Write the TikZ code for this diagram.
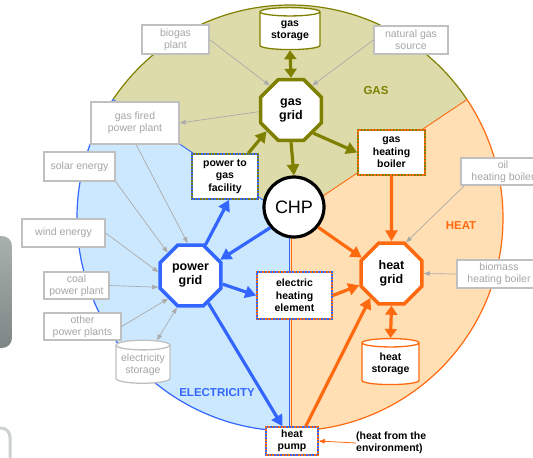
\documentclass[tikz,border=0pt]{standalone}
\usepackage{fontspec}
\setmainfont{Liberation Sans}
\usetikzlibrary{shapes.geometric,arrows.meta,calc}
\definecolor{gasfill}{HTML}{DDDBAA}
\definecolor{gasline}{HTML}{808000}
\definecolor{elecfill}{HTML}{CCE8FF}
\definecolor{elecline}{HTML}{3366FF}
\definecolor{heatfill}{HTML}{FFDFB3}
\definecolor{heatline}{HTML}{FF6A10}
\definecolor{graytext}{HTML}{A6A6A6}
\definecolor{grayline}{HTML}{C0C0C0}
\definecolor{grayarr}{HTML}{ABABAB}
\definecolor{slidetop}{HTML}{A9B1AF}
\definecolor{slidebot}{HTML}{7D8684}
\definecolor{slideline}{HTML}{CDD1D0}
\newcommand\myboxfont{\fontsize{10.5}{12}\selectfont}
\newcommand\myboldfont{\fontsize{10.5}{12.5}\selectfont\bfseries}
\newcommand\myoctfont{\fontsize{12.5}{14}\selectfont\bfseries}
\begin{document}
\begin{tikzpicture}[x=1pt,y=1pt,
  box/.style={rectangle, fill=white, align=center, inner sep=0pt},
  graybox/.style={box, draw=grayline, line width=1.3pt, text=graytext, font=\myboxfont},
  mixbox/.style 2 args={box, draw=#1, line width=1.6pt, font=\myboldfont,
     postaction={draw=#2, line width=1.6pt, dash pattern=on 1.6pt off 1.6pt}},
  octo/.style={regular polygon, regular polygon sides=8, minimum size=66pt, inner sep=0pt,
     fill=white, line width=3.5pt, font=\myoctfont, align=center},
  cyl/.style={cylinder, shape border rotate=90, aspect=0.22, fill=white, line width=1.3pt,
     align=center, inner sep=0pt},
  bigarrow/.style={line width=3.2pt, -{Triangle[length=11pt,width=12pt]}},
  bigdouble/.style={line width=3.2pt, {Triangle[length=9pt,width=12pt]}-{Triangle[length=9pt,width=12pt]}},
  grayarrow/.style={line width=0.7pt, draw=grayarr, -{Triangle[length=6pt,width=4.5pt]}},
  graydouble/.style={line width=0.7pt, draw=grayarr, {Triangle[length=6pt,width=4.5pt]}-{Triangle[length=6pt,width=4.5pt]}},
  sectorlabel/.style={font=\fontsize{11.5}{12}\selectfont\bfseries}
]
\useasboundingbox (0,-458) rectangle (533,0);
% background slide pieces at the left edge
\shade[top color=slidetop, bottom color=slidebot, rounded corners=10pt] (-25,-236) rectangle (12,-348);
\draw[line width=3pt, draw=slideline, rounded corners=9pt] (-25,-428) rectangle (10,-490);

% sectors
\coordinate (C) at (290,-218);
\fill[gasfill] (C) -- ++(33.8:213) arc[start angle=33.8, end angle=146.2, radius=213] -- cycle;
\fill[elecfill] (C) -- ++(146.2:213) arc[start angle=146.2, end angle=270, radius=213] -- cycle;
\fill[heatfill] (C) -- ++(-90:213) arc[start angle=-90, end angle=33.8, radius=213] -- cycle;
\draw[gasline, line width=1.2pt] (C) ++(33.8:213) arc[start angle=33.8, end angle=146.2, radius=213];
\draw[elecline, line width=1.2pt] (C) ++(146.2:213) arc[start angle=146.2, end angle=270, radius=213];
\draw[heatline, line width=1.2pt] (C) ++(-90:213) arc[start angle=-90, end angle=33.8, radius=213];
\draw[elecline, line width=0.9pt] (C) -- ++(146.2:213);
\draw[heatline, line width=0.9pt] (C) -- ++(33.8:213);
\draw[elecline, line width=0.9pt] (289,-218) -- (289,-431);
\draw[heatline, line width=0.9pt] (291.2,-218) -- (291.2,-431);

% sector labels
\node[sectorlabel, text=gasline] (lgas) at (376,-91) {GAS};
\node[sectorlabel, text=heatline] (lheat) at (461,-226) {HEAT};
\node[sectorlabel, text=elecline] (lelec) at (217,-393) {ELECTRICITY};

% nodes
\node[cyl, draw=gasline, minimum width=60pt, minimum height=42pt, font=\myboldfont] (gasstorage) at (290,-31) {gas\\storage};
\node[octo, draw=gasline] (gasgrid) at (291,-110) {gas\\grid};
\node[graybox, minimum width=67pt, minimum height=29pt] (biogas) at (175.5,-39.5) {biogas\\plant};
\node[graybox, minimum width=74pt, minimum height=28pt] (natgas) at (411,-40) {natural gas\\source};
\node[graybox, minimum width=88pt, minimum height=42pt] (gasfired) at (135,-123) {gas fired\\power plant};
\node[graybox, minimum width=71pt, minimum height=29pt] (solar) at (79.5,-166.5) {solar energy};
\node[graybox, minimum width=83pt, minimum height=28pt] (wind) at (63.5,-233) {wind energy};
\node[graybox, minimum width=65pt, minimum height=27pt] (coal) at (76.5,-285.5) {coal\\power plant};
\node[graybox, minimum width=77pt, minimum height=27pt] (other) at (82.5,-326.5) {other\\power plants};
\node[cyl, draw=grayline, text=graytext, minimum width=54pt, minimum height=43pt, font=\myboxfont] (elecstorage) at (143,-364.5) {electricity\\storage};
\node[mixbox={gasline}{elecline}, minimum width=66pt, minimum height=45pt] (p2g) at (225,-176.5) {power to\\gas\\facility};
\node[circle, draw=black, line width=3.2pt, fill=white, minimum size=60pt, inner sep=0pt, font=\fontsize{18}{20}\selectfont] (chp) at (294,-207) {CHP};
\node[mixbox={gasline}{heatline}, minimum width=67pt, minimum height=45pt] (gasboiler) at (391.5,-152.5) {gas\\heating\\boiler};
\node[graybox, minimum width=84pt, minimum height=27pt] (oil) at (503,-171.5) {oil\\heating boiler};
\node[octo, draw=elecline] (powergrid) at (190.5,-275.5) {power\\grid};
\node[mixbox={heatline}{elecline}, minimum width=75pt, minimum height=47pt] (elecheat) at (294.5,-295.5) {electric\\heating\\element};
\node[octo, draw=heatline] (heatgrid) at (391.5,-273.5) {heat\\grid};
\node[graybox, minimum width=84pt, minimum height=28pt] (biomass) at (499,-274) {biomass\\heating boiler};
\node[cyl, draw=heatline, minimum width=57pt, minimum height=46pt, font=\myboldfont] (heatstorage) at (390.5,-364) {heat\\storage};
\node[mixbox={elecline}{heatline}, minimum width=52pt, minimum height=28pt] (heatpump) at (292,-441) {heat\\pump};
\node[align=left, inner sep=0pt, anchor=west, font=\myboldfont] (env) at (356,-443) {(heat from the\\environment)};

% gray input arrows
\draw[grayarrow] (biogas.east) -- (gasgrid.131);
\draw[grayarrow] (natgas.west) -- (gasgrid.49);
\draw[grayarrow] (gasgrid.183) -- (gasfired.east);
\draw[grayarrow] (solar.south east) -- (powergrid.135);
\draw[grayarrow] (gasfired.-87) -- (powergrid.95);
\draw[grayarrow] (wind.east) -- (powergrid.174);
\draw[grayarrow] (coal.east) -- (powergrid.200);
\draw[grayarrow] (other.east) -- (powergrid.226);
\draw[graydouble] (powergrid.247) -- (elecstorage.60);
\draw[grayarrow] ($(oil.south west)+(4,0)$) -- (heatgrid.65);
\draw[grayarrow] (biomass.west) -- (heatgrid.east);
\draw[heatline, line width=0.8pt, -{Triangle[length=6pt,width=4.5pt]}] (env.west) -- (heatpump.east);

% gas arrows
\draw[bigdouble, draw=gasline, fill=gasline] (gasstorage.south) -- (gasgrid.north);
\draw[bigarrow, draw=gasline, fill=gasline] (gasgrid.south) -- (chp.north);
\draw[bigarrow, draw=gasline, fill=gasline] (gasgrid.-46) -- (gasboiler.west);
\draw[bigarrow, draw=gasline, fill=gasline] (p2g.45) -- (gasgrid.221);

% electricity arrows
\draw[bigarrow, draw=elecline, fill=elecline] (chp.221) -- (powergrid.28);
\draw[bigarrow, draw=elecline, fill=elecline] (powergrid.64) -- (p2g.-80);
\draw[bigarrow, draw=elecline, fill=elecline] (powergrid.-15) -- (elecheat.west);
\draw[bigarrow, draw=elecline, fill=elecline] (powergrid.-57) -- (heatpump.123);

% heat arrows
\draw[bigarrow, draw=heatline, fill=heatline] (chp.-40) -- (heatgrid.152);
\draw[bigarrow, draw=heatline, fill=heatline] (gasboiler.south) -- (heatgrid.north);
\draw[bigarrow, draw=heatline, fill=heatline] (elecheat.east) -- (heatgrid.200);
\draw[bigarrow, draw=heatline, fill=heatline] (heatpump.47) -- (heatgrid.229);
\draw[bigdouble, draw=heatline, fill=heatline] (heatgrid.south) -- (heatstorage.north);
\end{tikzpicture}
\end{document}
